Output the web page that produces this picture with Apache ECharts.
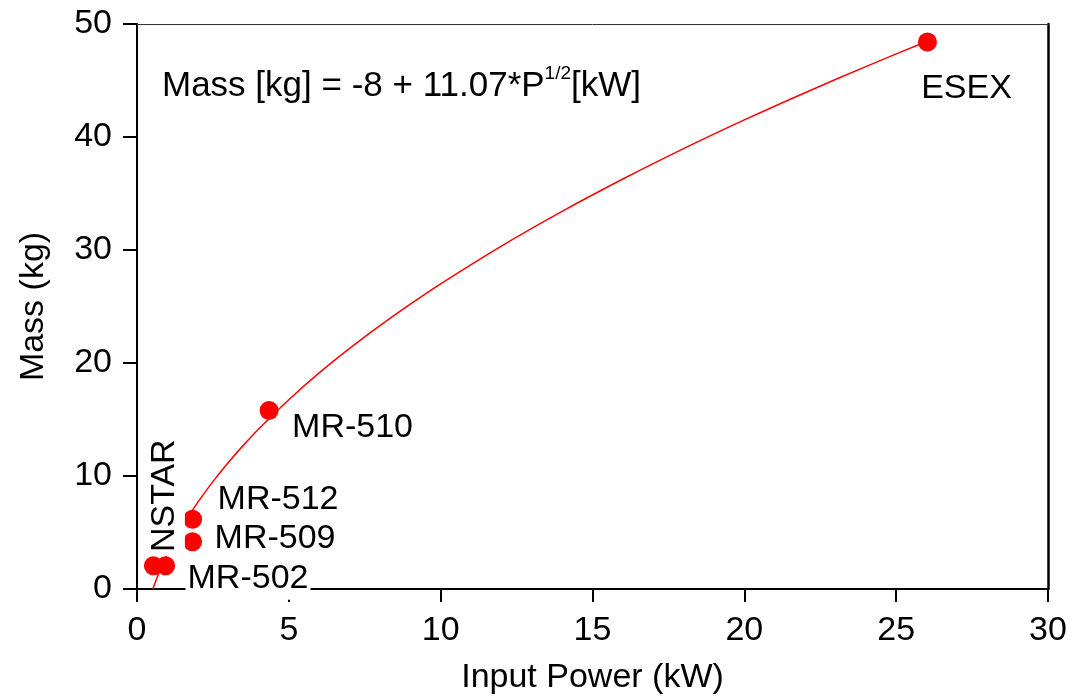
<!DOCTYPE html>
<html>
<head>
<meta charset="utf-8">
<script src="https://cdn.jsdelivr.net/npm/echarts@6/dist/echarts.min.js"></script>
<style>
html,body{margin:0;padding:0;background:#fff;}
#chart{width:1073px;height:700px;}
</style>
</head>
<body>
<div id="chart"></div>
<script>
// Thruster data points
const pointNames = ['NSTAR', 'MR-502', 'MR-509', 'MR-512', 'MR-510', 'ESEX'];
const pointPower = [0.54, 0.94, 1.83, 1.83, 4.35, 26.03];
const pointMass = [2.06, 2.06, 4.18, 6.18, 15.8, 48.4];

// Fit curve as drawn in the picture
const fitPower = [0.52, 0.6, 0.7, 0.85, 1.0, 1.25, 1.5, 1.75, 2.0, 2.5, 3, 3.5, 4, 5, 6, 7, 8, 9, 10, 12, 14, 16, 18, 20, 22, 24, 26];
const fitMass = [0.0, 0.57, 1.26, 2.21, 3.07, 4.38, 5.56, 6.64, 7.66, 9.50, 11.17, 12.71, 14.14, 16.75, 19.12, 21.29, 23.31, 25.21, 27.01, 30.35, 33.42, 36.28, 38.97, 41.51, 43.92, 46.23, 48.45];

const xAxisName = 'Input Power (kW)';
const yAxisName = 'Mass (kg)';
const fitText = ['Mass [kg] = -8 + 11.07*P', '1/2', '[kW]'];

const FONT = '"Liberation Sans", Arial, Helvetica, sans-serif';
const FS = 34;

// label placement (style only), relative to the symbol's bounding box
const labelStyles = {
  'NSTAR': {position: [20.5, -58.5], rotate: 90, align: 'center', verticalAlign: 'middle',
            backgroundColor: '#fff', padding: [0, 0, 7, 4], lineHeight: 34},
  'MR-502': {position: [29.5, 22.5], align: 'left', verticalAlign: 'middle', backgroundColor: '#fff',
             padding: [2, 2, 6, 2], lineHeight: 34},
  'MR-509': {position: [31.5, 6.5], align: 'left', verticalAlign: 'middle'},
  'MR-512': {position: [34.5, -10.5], align: 'left', verticalAlign: 'middle'},
  'MR-510': {position: [32.5, 26.5], align: 'left', verticalAlign: 'middle'},
  'ESEX': {position: [3.2, 56.5], align: 'left', verticalAlign: 'middle'}
};

const scatterData = pointNames.map((n, i) => ({
  name: n,
  value: [pointPower[i], pointMass[i]],
  label: labelStyles[n]
}));
const fitData = fitPower.map((p, i) => [p, fitMass[i]]);

const chart = echarts.init(document.getElementById('chart'));
const axisTextStyle = {color: '#000', fontSize: FS, fontFamily: FONT};
chart.setOption({
  animation: false,
  backgroundColor: '#fff',
  grid: {left: 137, right: 25, top: 24, bottom: 110, containLabel: false},
  xAxis: [{
    type: 'value', min: 0, max: 30, interval: 5, position: 'bottom',
    name: xAxisName, nameLocation: 'middle', nameGap: 72,
    nameTextStyle: axisTextStyle,
    axisLine: {show: true, onZero: false, lineStyle: {color: '#000', width: 2}},
    axisTick: {show: true, inside: false, length: 13, lineStyle: {color: '#000', width: 2}},
    axisLabel: Object.assign({margin: 25}, axisTextStyle),
    splitLine: {show: false}
  }, {
    type: 'value', min: 0, max: 30, interval: 5, position: 'top',
    axisLine: {show: true, onZero: false, lineStyle: {color: '#333', width: 1}},
    axisTick: {show: false}, axisLabel: {show: false}, splitLine: {show: false}
  }],
  yAxis: [{
    type: 'value', min: 0, max: 50, interval: 10, position: 'left',
    name: yAxisName, nameLocation: 'middle', nameGap: 86,
    nameTextStyle: axisTextStyle,
    axisLine: {show: true, onZero: false, lineStyle: {color: '#000', width: 2}},
    axisTick: {show: true, inside: false, length: 14, lineStyle: {color: '#000', width: 2}},
    axisLabel: Object.assign({margin: 25}, axisTextStyle),
    splitLine: {show: false}
  }, {
    type: 'value', min: 0, max: 50, interval: 10, position: 'right',
    axisLine: {show: true, onZero: false, lineStyle: {color: '#000', width: 2.5}},
    axisTick: {show: false}, axisLabel: {show: false}, splitLine: {show: false}
  }],
  graphic: [{
    type: 'text', left: 162, top: 64, z: 10,
    style: {
      text: '{a|' + fitText[0] + '}{s|' + fitText[1] + '}{a|' + fitText[2] + '}',
      rich: {
        a: {fontSize: 35, fontFamily: FONT, fill: '#000', lineHeight: 44},
        s: {fontSize: 19, fontFamily: FONT, fill: '#000', lineHeight: 19, verticalAlign: 'top'}
      }
    }
  }],
  series: [{
    type: 'line', data: fitData, smooth: 0.3, showSymbol: false, symbol: 'none', z: 1,
    lineStyle: {color: '#ff0000', width: 1.5}, silent: true
  }, {
    type: 'scatter', data: scatterData, symbol: 'circle', symbolSize: 19, z: 3,
    itemStyle: {color: '#ff0000', opacity: 1},
    label: {show: true, formatter: '{b}', color: '#000', fontSize: FS, fontFamily: FONT}
  }]
});
</script>
</body>
</html>
